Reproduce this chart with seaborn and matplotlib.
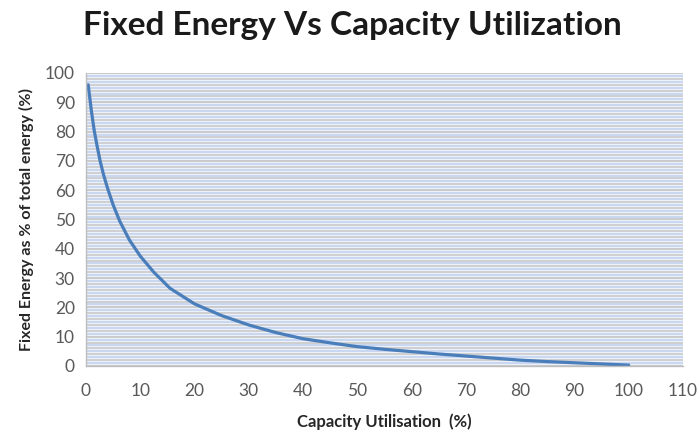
import matplotlib
matplotlib.use("Agg")
import matplotlib.pyplot as plt
from matplotlib.ticker import MultipleLocator
import seaborn as sns
import pandas as pd

# Data
capacity_utilisation = [0.4, 1, 1.5, 2, 2.6, 3.2, 4, 5, 6.2, 8, 10, 12.5, 15.5, 20, 25, 30, 35, 40, 45,
                        50, 55, 60, 65, 70, 75, 80, 85, 90, 95, 100]
fixed_energy_pct = [96, 87, 80.5, 75.5, 70, 65.5, 60.5, 55, 49.5, 43, 37.5, 32, 26.5, 21.2, 17.2, 14, 11.4, 9.3, 7.9,
                    6.6, 5.7, 4.9, 4.1, 3.4, 2.7, 2.0, 1.5, 1.1, 0.7, 0.3]
x_ticks = [0, 10, 20, 30, 40, 50, 60, 70, 80, 90, 100, 110]
y_ticks = [0, 10, 20, 30, 40, 50, 60, 70, 80, 90, 100]

df = pd.DataFrame({"cap": capacity_utilisation, "fixed": fixed_energy_pct})

sns.set_theme(style="white")
plt.rcParams["font.family"] = ["Lato", "DejaVu Sans"]

fig = plt.figure(figsize=(6.98, 4.34), dpi=100)
ax = fig.add_axes([0.1232, 0.1567, 0.9785 - 0.1232, 0.8318 - 0.1567])
ax.set_facecolor("#f1f4fb")

sns.lineplot(data=df, x="cap", y="fixed", ax=ax, color="#4a7ebb", linewidth=2.3)

ax.set_xlim(0, 110)
ax.set_ylim(0, 100)
ax.set_xticks(x_ticks)
ax.set_yticks(y_ticks)
ax.yaxis.set_minor_locator(MultipleLocator(1))

ax.grid(True, axis="y", which="minor")
ax.grid(True, axis="y", which="major", color="#bfbfbf", linewidth=1.1)
for t in ax.yaxis.get_minor_ticks():
    t.tick1line.set_visible(False)
for val, t in zip(ax.yaxis.get_minorticklocs(), ax.yaxis.get_minor_ticks()):
    if int(round(val)) % 2 == 0:
        t.gridline.set_color("#c6c6c6")
        t.gridline.set_linewidth(1.1)
    else:
        t.gridline.set_color("#c9d7f1")
        t.gridline.set_linewidth(1.6)

for s in ["top", "right"]:
    ax.spines[s].set_visible(False)
for s in ["left", "bottom"]:
    ax.spines[s].set_color("#bdbdbd")
    ax.spines[s].set_linewidth(1.0)

ax.tick_params(axis="both", which="major", direction="out", length=5, width=1,
               color="#bdbdbd", labelcolor="#595959", labelsize=12.5)
ax.tick_params(axis="x", pad=7)
ax.tick_params(axis="y", pad=3)

ax.set_xlabel("Capacity Utilisation  (%)", fontsize=12, fontweight="bold", color="#262626", labelpad=11)
ax.set_ylabel("Fixed Energy as % of total energy (%)", fontsize=11.5, fontweight="bold", color="#262626", labelpad=8)

fig.suptitle("Fixed Energy Vs Capacity Utilization", x=0.505, y=0.975, fontsize=24, fontweight="bold", color="#1a1a1a")

fig.savefig("out.png", dpi=100)
